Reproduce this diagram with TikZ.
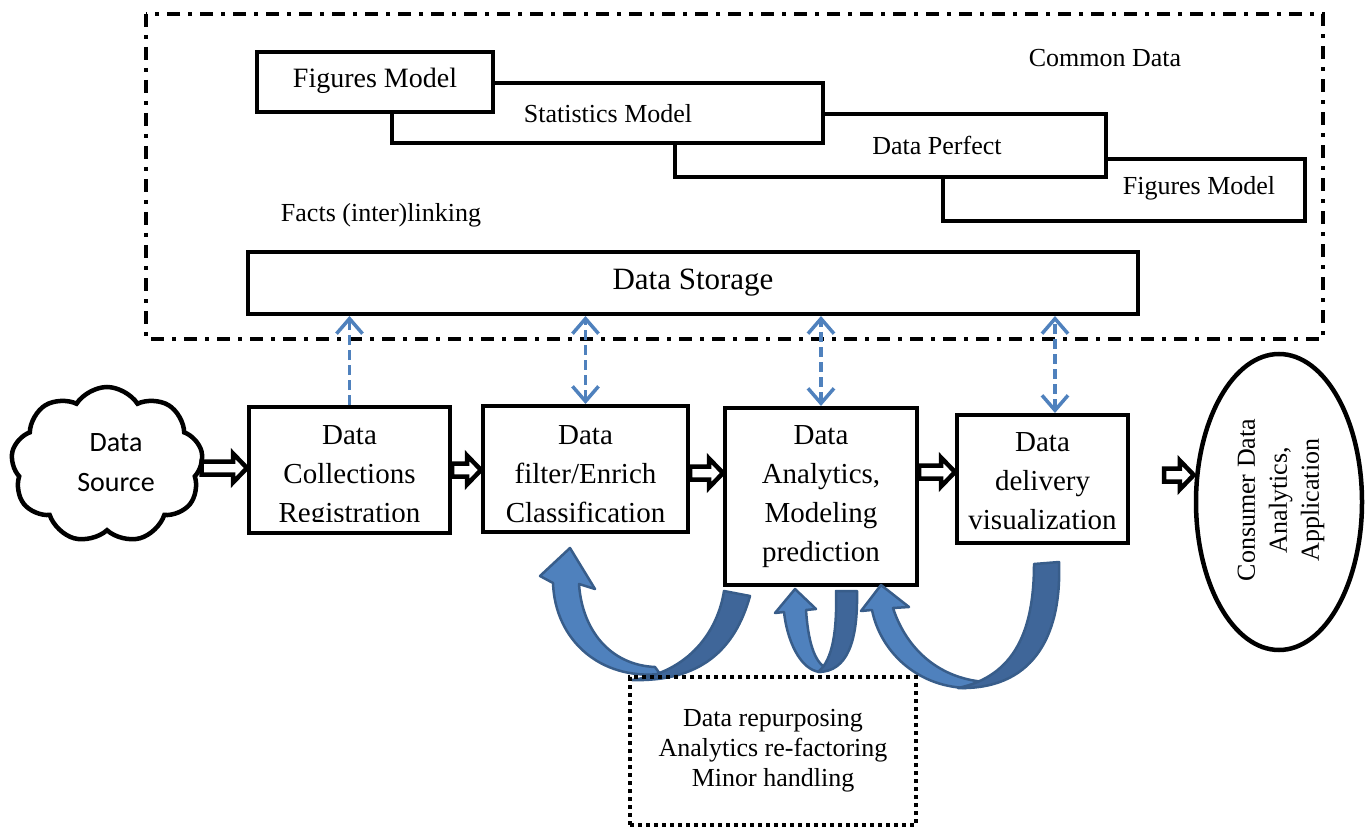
\documentclass[tikz,border=0pt]{standalone}
\usepackage{fontspec}
\setmainfont{Liberation Serif}
\newfontfamily\cloudsans{Carlito}
\usetikzlibrary{shapes.geometric,shapes.symbols,arrows.meta,calc}
\definecolor{ablue}{HTML}{4F81BD}
\definecolor{adark}{HTML}{3F6699}
\definecolor{aedge}{HTML}{385D8A}
\begin{document}
\begin{tikzpicture}[x=1pt,y=-1pt,
  box/.style={draw, line width=4pt, fill=white, inner sep=0pt},
  ptext/.style={align=center, inner sep=0pt, font=\fontsize{29}{39}\selectfont},
  mtext/.style={inner sep=0pt, font=\fontsize{26}{30}\selectfont},
  bluedash/.style={draw=ablue, line width=3.5pt, dash pattern=on 10pt off 5pt,
    >={Straight Barb[length=15pt,width=26pt,line width=3.5pt]}},
  harrow/.style={draw, fill=white, line width=4.5pt, line join=miter,
    to path={let \p1=(\tikztostart), \p2=(\tikztotarget) in
      (\x1,{-#1pt+6.5pt}) -- (\x2-14pt,{-#1pt+6.5pt}) -- (\x2-14pt,{-#1pt+14.5pt})
      -- (\x2,{-#1pt}) -- (\x2-14pt,{-#1pt-14.5pt}) -- (\x2-14pt,{-#1pt-6.5pt})
      -- (\x1,{-#1pt-6.5pt}) -- cycle}},
  curved/.style={draw=aedge, line width=2.5pt, line join=round}
]
\useasboundingbox (0,0) rectangle (1371,829);

% outer dash-dot frame
\draw[line width=4pt, dash pattern=on 13pt off 8pt on 4pt off 8pt]
  (146,14) rectangle (1323,339);

% stacked model boxes (back to front)
\node[box, minimum width=362pt, minimum height=62pt] (f2) at (1124,190) {};
\node[mtext] (f2t) at (1199,188) {Figures Model};
\node[box, minimum width=431pt, minimum height=63pt] (dp) at (890.5,145.5) {};
\node[mtext] (dpt) at (937,145) {Data Perfect};
\node[box, minimum width=431pt, minimum height=60pt] (sm) at (607.5,113) {};
\node[mtext] (smt) at (608,114) {Statistics Model};
\node[box, minimum width=236pt, minimum height=60pt] (f1) at (375,82) {};
\node[inner sep=0pt, font=\fontsize{28}{30}\selectfont] (f1t) at (375,81) {Figures Model};

\node[mtext] (cd) at (1105,58) {Common Data};
\node[mtext] (fl) at (381,215) {Facts (inter)linking};

% data storage
\node[box, minimum width=890pt, minimum height=62pt, font=\fontsize{31}{35}\selectfont] (st) at (693,283) {Data Storage};

% data source cloud
\node[cloud, draw, line width=4.5pt, cloud puffs=9, cloud puff arc=115, aspect=1.2,
  minimum width=192pt, minimum height=156pt, inner sep=0pt] (src) at (107,465) {};
\node[align=center, inner sep=0pt, font=\cloudsans\fontsize{28}{40}\selectfont] (srct) at (116,463) {Data\\Source};

% process boxes
\node[box, minimum width=201pt, minimum height=126pt] (A) at (349.5,470) {};
\begin{scope}
  \clip (A.north west) rectangle ([yshift=14pt]A.south east);
  \node[ptext] (At) at (349.5,477) {Data\\Collections\\Registration};
\end{scope}
\node[box, minimum width=205pt, minimum height=126pt] (B) at (585.5,469) {};
\node[ptext] (Bt) at (585.5,474) {Data\\filter/Enrich\\Classification};
\node[box, minimum width=192pt, minimum height=177pt] (C) at (821,496.5) {};
\node[ptext] (Ct) at (821,496.5) {Data\\Analytics,\\Modeling\\prediction};
\node[box, minimum width=171pt, minimum height=128pt] (D) at (1042.5,479) {};
\node[ptext] (Dt) at (1042.5,481) {Data\\delivery\\visualization};

% consumer ellipse
\node[ellipse, draw, line width=4.5pt, minimum width=166pt, minimum height=296pt, inner sep=0pt] (E) at (1279,502) {};
\node[rotate=90, align=center, inner sep=0pt, font=\fontsize{26}{32}\selectfont] (Et) at (1281,500)
  {Consumer Data\\Analytics,\\Application};

% hollow block arrows
\draw[harrow=468] ([xshift=-2pt]src.east) to (A.west);
\draw[harrow=470] (A.east) to (B.west);
\draw[harrow=473] (B.east) to (C.west);
\draw[harrow=472] (C.east) to (D.west);
\draw[harrow=475] ([xshift=34pt]D.east) to (E.west);

% blue dashed links to storage
\draw[bluedash, ->] (A.north) -- (A.north |- st.south);
\draw[bluedash, <->] (B.north) -- (B.north |- st.south);
\draw[bluedash, <->] (C.north) -- (C.north |- st.south);
\draw[bluedash, <->] ([xshift=12.5pt]D.north) -- ([xshift=12.5pt]D.north |- st.south);

% curved feedback arrows
% arrow 1
\draw[curved, fill=ablue] (660,674) .. controls (600,680) and (555,640) .. (553,583)
  -- (540,576) -- (570,548) -- (595,589) -- (579,584)
  .. controls (582,630) and (610,665) .. (655,667) -- cycle;
\draw[curved, fill=adark] (750,596) .. controls (735,650) and (700,682) .. (632,680)
  .. controls (690,672) and (718,630) .. (724,591) -- cycle;
% arrow 2
\draw[curved, fill=ablue] (820,672) .. controls (800,670) and (787,640) .. (784,612)
  -- (775,613) -- (795,589) -- (816,609) -- (806,610)
  .. controls (808,640) and (814,662) .. (826,668) -- cycle;
\draw[curved, fill=adark] (857,591) .. controls (858,640) and (848,672) .. (818,672)
  .. controls (833,660) and (837,630) .. (836,591) -- cycle;
% arrow 3
\draw[curved, fill=ablue] (966,688) .. controls (915,686) and (880,650) .. (872,610)
  -- (861,611) -- (881,585) -- (909,607) -- (893,608)
  .. controls (905,645) and (935,678) .. (985,682) -- cycle;
\draw[curved, fill=adark] (1059,562) .. controls (1062,640) and (1030,690) .. (958,688)
  .. controls (1015,676) and (1034,630) .. (1034,564) -- cycle;

% bottom dotted note
\node[draw, line width=4pt, dash pattern=on 4pt off 4pt, minimum width=286pt, minimum height=148pt,
  align=center, inner sep=0pt, font=\fontsize{26}{30}\selectfont] (note) at (773,751)
  {Data repurposing\\Analytics re-factoring\\Minor handling};
\end{tikzpicture}
\end{document}
